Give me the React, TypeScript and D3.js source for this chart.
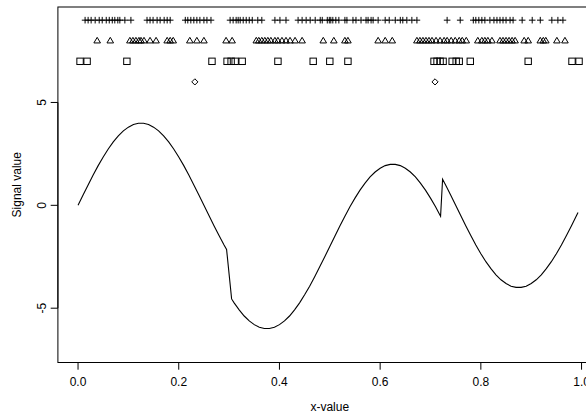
import React from "react";
import * as d3 from "d3";

// Signal curve samples (x, y)
const curveX = [
  0, 0.01, 0.02, 0.03, 0.04, 0.05, 0.06, 0.07, 0.08, 0.09, 0.1, 0.11, 0.12, 0.13, 0.14, 0.15, 0.16, 0.17, 0.18, 0.19,
  0.2, 0.21, 0.22, 0.23, 0.24, 0.25, 0.26, 0.27, 0.28, 0.29, 0.295, 0.305, 0.31, 0.32, 0.33, 0.34, 0.35, 0.36, 0.37,
  0.38, 0.39, 0.4, 0.41, 0.42, 0.43, 0.44, 0.45, 0.46, 0.47, 0.48, 0.49, 0.5, 0.51, 0.52, 0.53, 0.54, 0.55, 0.56,
  0.57, 0.58, 0.59, 0.6, 0.61, 0.62, 0.63, 0.64, 0.65, 0.66, 0.67, 0.68, 0.69, 0.7, 0.71, 0.72, 0.724, 0.73, 0.74,
  0.75, 0.76, 0.77, 0.78, 0.79, 0.8, 0.81, 0.82, 0.83, 0.84, 0.85, 0.86, 0.87, 0.88, 0.89, 0.9, 0.91, 0.92, 0.93,
  0.94, 0.95, 0.96, 0.97, 0.98, 0.99, 0.993,
];
const curveY = [
  0, 0.5, 0.99, 1.47, 1.93, 2.35, 2.74, 3.08, 3.38, 3.62, 3.8, 3.93, 3.99, 3.99, 3.93, 3.8, 3.62, 3.38, 3.08, 2.74,
  2.35, 1.93, 1.47, 0.99, 0.5, 0, -0.5, -0.99, -1.47, -1.93, -2.14, -4.55, -4.74, -5.08, -5.38, -5.62, -5.8, -5.93,
  -5.99, -5.99, -5.93, -5.8, -5.62, -5.38, -5.08, -4.74, -4.35, -3.93, -3.47, -2.99, -2.5, -2.0, -1.5, -1.01, -0.53,
  -0.07, 0.35, 0.74, 1.08, 1.38, 1.62, 1.8, 1.93, 1.99, 1.99, 1.93, 1.8, 1.62, 1.38, 1.08, 0.74, 0.35, -0.07, -0.53,
  1.27, 0.99, 0.5, 0, -0.5, -0.99, -1.47, -1.93, -2.35, -2.74, -3.08, -3.38, -3.62, -3.8, -3.93, -3.99, -3.99, -3.93,
  -3.8, -3.62, -3.38, -3.08, -2.74, -2.35, -1.93, -1.47, -0.99, -0.5, -0.35,
];

// Marker rows: x positions per class
const plusX = [
  0.014, 0.02, 0.026, 0.034, 0.042, 0.048, 0.056, 0.062, 0.068, 0.073, 0.079, 0.083, 0.093, 0.105,
  0.137, 0.143, 0.149, 0.157, 0.163, 0.171, 0.177, 0.183,
  0.213, 0.218, 0.224, 0.23, 0.236, 0.242, 0.25, 0.256, 0.264,
  0.302, 0.308, 0.314, 0.318, 0.322, 0.328, 0.334, 0.34, 0.346, 0.357, 0.365,
  0.391, 0.401, 0.413, 0.437, 0.445, 0.453, 0.461, 0.471, 0.481,
  0.485, 0.495, 0.499, 0.502, 0.506, 0.512, 0.518, 0.53, 0.534, 0.546, 0.552, 0.562, 0.572, 0.576, 0.582, 0.586,
  0.596, 0.61, 0.618, 0.63, 0.64, 0.645, 0.653, 0.663, 0.673,
  0.733, 0.759, 0.785, 0.79, 0.796, 0.802, 0.808, 0.818, 0.826, 0.832, 0.838, 0.844, 0.85, 0.858, 0.864,
  0.882, 0.902, 0.918, 0.941, 0.953, 0.963,
];
const triX = [
  0.038, 0.064, 0.103, 0.109, 0.115, 0.121, 0.125, 0.131, 0.143, 0.155, 0.177, 0.183, 0.189,
  0.222, 0.236, 0.25, 0.294, 0.306,
  0.354, 0.359, 0.365, 0.371, 0.377, 0.383, 0.391, 0.397, 0.405, 0.413, 0.421, 0.431, 0.445,
  0.487, 0.508, 0.53, 0.536, 0.596, 0.61, 0.624,
  0.673, 0.679, 0.685, 0.691, 0.697, 0.703, 0.711, 0.719, 0.727, 0.733, 0.741, 0.749, 0.757, 0.763, 0.771,
  0.794, 0.802, 0.808, 0.814, 0.822, 0.838, 0.844, 0.85, 0.856, 0.862, 0.868, 0.886, 0.894,
  0.918, 0.924, 0.929, 0.951, 0.967,
];
const squareX = [
  0.004, 0.018, 0.097, 0.266, 0.296, 0.304, 0.312, 0.326, 0.397, 0.467, 0.5, 0.536,
  0.707, 0.713, 0.719, 0.725, 0.743, 0.751, 0.757, 0.779, 0.894, 0.981, 0.995,
];
const diamondX = [0.232, 0.709];

const rowY = { plus: 9, tri: 8, square: 7, diamond: 6 };

const xTicks = [0, 0.2, 0.4, 0.6, 0.8, 1.0];
const yTicks = [-5, 0, 5];
const xTickLabels = ["0.0", "0.2", "0.4", "0.6", "0.8", "1.0"];
const yTickLabels = ["-5", "0", "5"];

export default function App() {
  const W = 586;
  const H = 416;
  const left = 57.9;
  const right = 601.7;
  const top = 7;
  const bottom = 362.5;
  const x = d3.scaleLinear().domain([-0.04, 1.04]).range([left, right]);
  const y = d3.scaleLinear().domain([-7.64, 9.64]).range([bottom, top]);
  const pts: [number, number][] = curveX.map((v, i) => [v, curveY[i]]);
  const line = d3
    .line<[number, number]>()
    .x((d) => x(d[0]))
    .y((d) => y(d[1]))
    .curve(d3.curveLinear);
  const font = "'Liberation Sans', Arial, Helvetica, sans-serif";
  const s = 3.2; // square half side
  const p = 3.3; // plus half arm
  const t = 3.3; // triangle half width
  const dm = 3.1; // diamond half diagonal
  return (
    <svg
      width={W}
      height={H}
      style={{ position: "absolute", left: 0, top: 0, background: "#fff" }}
      fontFamily={font}
    >
      <rect x={0} y={0} width={W} height={H} fill="#fff" />
      <rect x={left} y={top} width={right - left} height={bottom - top} fill="none" stroke="#000" strokeWidth={1} />
      {/* x axis */}
      <line x1={x(0)} x2={x(1)} y1={bottom} y2={bottom} stroke="#000" />
      {xTicks.map((v, i) => (
        <g key={"xt" + i}>
          <line x1={x(v)} x2={x(v)} y1={bottom} y2={bottom + 7.2} stroke="#000" />
          <text x={x(v)} y={385.5} fontSize={12} textAnchor="middle" fill="#000">
            {xTickLabels[i]}
          </text>
        </g>
      ))}
      <text x={(left + right) / 2} y={411} fontSize={12} textAnchor="middle" fill="#000">
        x-value
      </text>
      {/* y axis */}
      <line x1={left} x2={left} y1={y(-5)} y2={y(5)} stroke="#000" />
      {yTicks.map((v, i) => (
        <g key={"yt" + i}>
          <line x1={left} x2={left - 7.2} y1={y(v)} y2={y(v)} stroke="#000" />
          <text
            transform={`translate(46,${y(v)}) rotate(-90)`}
            fontSize={12}
            textAnchor="middle"
            fill="#000"
          >
            {yTickLabels[i]}
          </text>
        </g>
      ))}
      <text
        transform={`translate(20.5,${(top + bottom) / 2}) rotate(-90)`}
        fontSize={12}
        textAnchor="middle"
        fill="#000"
      >
        Signal value
      </text>
      {/* curve */}
      <path d={line(pts) || ""} fill="none" stroke="#000" strokeWidth={1.1} />
      {/* markers */}
      {plusX.map((v, i) => (
        <path
          key={"p" + i}
          d={`M${x(v) - p},${y(rowY.plus)}H${x(v) + p}M${x(v)},${y(rowY.plus) - p}V${y(rowY.plus) + p}`}
          stroke="#000"
          fill="none"
        />
      ))}
      {triX.map((v, i) => {
        const cx = x(v);
        const cy = y(rowY.tri);
        return (
          <path
            key={"t" + i}
            d={`M${cx - t},${cy + 2.2}L${cx + t},${cy + 2.2}L${cx},${cy - 3.4}Z`}
            stroke="#000"
            fill="none"
          />
        );
      })}
      {squareX.map((v, i) => (
        <rect
          key={"s" + i}
          x={x(v) - s}
          y={y(rowY.square) - s}
          width={2 * s}
          height={2 * s}
          stroke="#000"
          fill="none"
        />
      ))}
      {diamondX.map((v, i) => {
        const cx = x(v);
        const cy = y(rowY.diamond);
        return (
          <path
            key={"d" + i}
            d={`M${cx},${cy - dm}L${cx + dm},${cy}L${cx},${cy + dm}L${cx - dm},${cy}Z`}
            stroke="#000"
            fill="none"
          />
        );
      })}
    </svg>
  );
}
